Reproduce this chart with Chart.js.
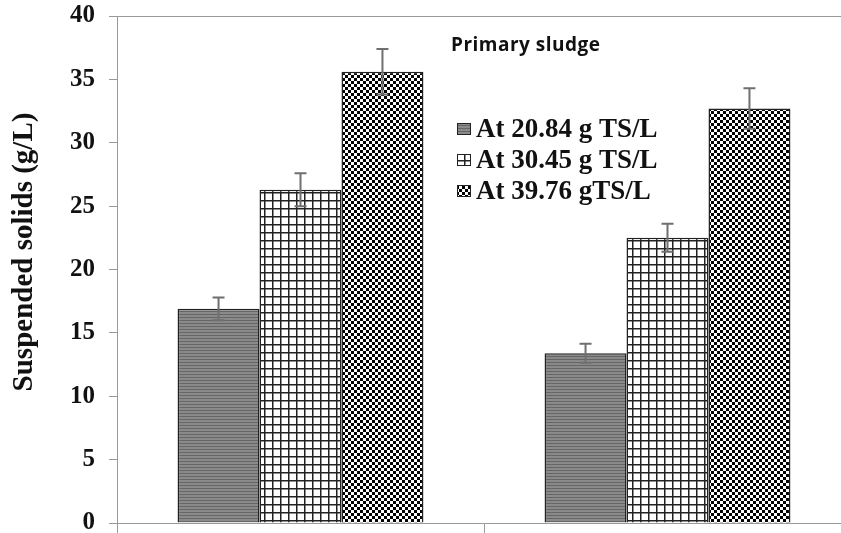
<!DOCTYPE html>
<html>
<head>
<meta charset="utf-8">
<title>Suspended solids</title>
<script src="https://cdn.jsdelivr.net/npm/chart.js@4.4.1/dist/chart.umd.min.js"></script>
<style>
  html, body { margin: 0; padding: 0; background: #fff; overflow: hidden; }
  #wrap { width: 860px; height: 533px; }
</style>
</head>
<body>
<div id="wrap"><canvas id="ssChart" width="860" height="533"></canvas></div>
<script>
// Suspended solids at three total-solids loadings, two sample groups
const categories = ["", ""];
const seriesLabels = ["At 20.84 g TS/L", "At 30.45 g TS/L", "At 39.76 gTS/L"];
const lowTS = [16.9, 13.4];
const midTS = [26.3, 22.5];
const highTS = [35.6, 32.7];
const lowTSErr = [0.9, 0.75];
const midTSErr = [1.3, 1.1];
const highTSErr = [1.8, 1.6];
const yTicks = [0, 5, 10, 15, 20, 25, 30, 35, 40];

const serif = "'Liberation Serif', 'Times New Roman', serif";

// Fill patterns for the bars
function makePattern(kind) {
  const c = document.createElement("canvas");
  const g = c.getContext("2d");
  if (kind === "stripes") {
    c.width = 4; c.height = 3;
    g.fillStyle = "#8a8a8a"; g.fillRect(0, 0, 4, 3);
    g.fillStyle = "#666"; g.fillRect(0, 2, 4, 1);
  } else if (kind === "grid") {
    c.width = 8; c.height = 8;
    g.fillStyle = "#fff"; g.fillRect(0, 0, 8, 8);
    g.fillStyle = "#222";
    g.fillRect(0, 0, 8, 1.5);
    g.fillRect(0, 0, 1.5, 8);
  } else {
    c.width = 6; c.height = 6;
    g.fillStyle = "#fff"; g.fillRect(0, 0, 6, 6);
    g.fillStyle = "#000";
    g.fillRect(0, 0, 3, 3);
    g.fillRect(3, 3, 3, 3);
  }
  return document.getElementById("ssChart").getContext("2d").createPattern(c, "repeat");
}

const patterns = [makePattern("stripes"), makePattern("grid"), makePattern("checker")];
const errors = [lowTSErr, midTSErr, highTSErr];

// Error bars, drawn from the dataset values and the y scale
const errorBarPlugin = {
  id: "errorBars",
  afterDatasetsDraw(chart) {
    const ctx = chart.ctx;
    const y = chart.scales.y;
    ctx.save();
    ctx.strokeStyle = "#6f6f6f";
    ctx.lineWidth = 2;
    chart.data.datasets.forEach((ds, i) => {
      const meta = chart.getDatasetMeta(i);
      meta.data.forEach((bar, j) => {
        const v = ds.data[j];
        const e = errors[i][j];
        const top = y.getPixelForValue(v + e);
        const bot = y.getPixelForValue(v - e);
        ctx.beginPath();
        ctx.moveTo(bar.x, top); ctx.lineTo(bar.x, bot);
        ctx.moveTo(bar.x - 6, top); ctx.lineTo(bar.x + 6, top);
        ctx.moveTo(bar.x - 6, bot); ctx.lineTo(bar.x + 6, bot);
        ctx.stroke();
      });
    });
    ctx.restore();
  }
};

// Plot frame, axis title, inner title and legend
const decorPlugin = {
  id: "decor",
  beforeDatasetsDraw(chart) {
    const { ctx, chartArea: a } = chart;
    ctx.save();
    ctx.strokeStyle = "#999";
    ctx.lineWidth = 1;
    ctx.beginPath();
    ctx.moveTo(a.left, a.top + 0.5);
    ctx.lineTo(a.right, a.top + 0.5);
    ctx.stroke();
    ctx.restore();
  },
  afterDraw(chart) {
    const ctx = chart.ctx;
    ctx.save();
    ctx.fillStyle = "#111";
    ctx.textBaseline = "middle";

    // y axis title
    ctx.save();
    ctx.translate(25, 252);
    ctx.rotate(-Math.PI / 2);
    ctx.textAlign = "center";
    ctx.font = "bold 29px " + serif;
    ctx.fillText("Suspended solids (g/L)", 0, 0);
    ctx.restore();

    ctx.textAlign = "left";
    ctx.font = "bold 19px 'Open Sans', Lato, sans-serif";
    ctx.letterSpacing = "0.5px";
    ctx.fillText("Primary sludge", 451, 46);
    ctx.letterSpacing = "0px";

    ctx.font = "bold 27px " + serif;
    seriesLabels.forEach((label, i) => {
      const cy = 129 + i * 31;
      ctx.fillStyle = patterns[i];
      ctx.fillRect(457, cy - 6, 14, 12);
      ctx.strokeStyle = "#222";
      ctx.lineWidth = 1;
      ctx.strokeRect(457.5, cy - 5.5, 13, 11);
      ctx.fillStyle = "#111";
      ctx.fillText(label, 476, cy + 1);
    });
    ctx.restore();
  }
};

const datasets = [lowTS, midTS, highTS].map((vals, i) => ({
  label: seriesLabels[i],
  data: vals,
  backgroundColor: patterns[i],
  borderColor: "#222",
  borderWidth: 1.5,
  categoryPercentage: 0.67,
  barPercentage: 1.0
}));

new Chart(document.getElementById("ssChart"), {
  type: "bar",
  data: { labels: categories, datasets: datasets },
  plugins: [decorPlugin, errorBarPlugin],
  options: {
    responsive: false,
    animation: false,
    layout: { padding: { top: 16, right: 9, left: 0, bottom: 0 } },
    plugins: {
      legend: { display: false },
      tooltip: { enabled: false }
    },
    scales: {
      x: {
        border: { color: "#999", width: 1 },
        grid: { offset: true, drawOnChartArea: false, color: "#999", tickLength: 10 },
        ticks: { display: false },
        afterFit(scale) { scale.height = 10; }
      },
      y: {
        min: 0,
        max: 40,
        afterBuildTicks(scale) { scale.ticks = yTicks.map(v => ({ value: v })); },
        border: { color: "#999", width: 1 },
        grid: { drawOnChartArea: false, color: "#999", tickLength: 8 },
        ticks: {
          color: "#111",
          padding: 14,
          font: { family: serif, size: 25, weight: "bold" }
        },
        afterFit(scale) {
          scale.width = 117;
          scale.paddingTop = 0;
          scale.paddingBottom = 0;
        }
      }
    }
  }
});
</script>
</body>
</html>
